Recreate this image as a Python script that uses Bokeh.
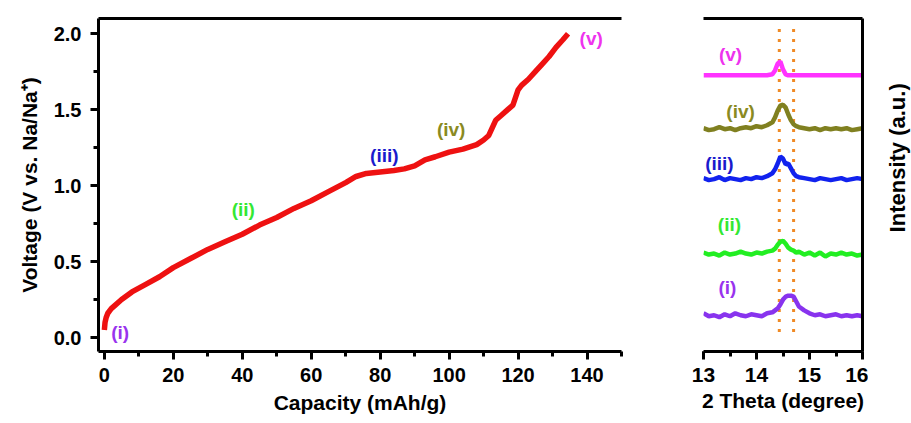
import math
from bokeh.plotting import figure
from bokeh.layouts import row
from bokeh.models import LinearAxis, SingleIntervalTicker, FixedTicker, Range1d, NumeralTickFormatter
from bokeh.core.properties import value
from bokeh.embed import file_html
from bokeh.resources import INLINE

FONT = "Liberation Sans"

# ---- charge curve data ----
capacity = [0, 0.2, 0.5, 1, 2, 3, 5, 8, 12, 16, 20, 25, 30, 35, 40, 45, 50, 55, 60, 65, 70, 73, 76,
            80, 84, 87, 90, 93, 96, 100, 104, 108, 110, 111.5, 112.5, 113.5, 115, 117, 118.5, 120,
            121, 123, 125, 127, 129, 131, 133, 134.5]
voltage = [0.05, 0.10, 0.13, 0.16, 0.19, 0.21, 0.25, 0.30, 0.35, 0.40, 0.46, 0.52, 0.58, 0.63, 0.68,
           0.74, 0.79, 0.85, 0.90, 0.96, 1.02, 1.06, 1.08, 1.09, 1.10, 1.11, 1.13, 1.17, 1.19, 1.22,
           1.24, 1.27, 1.30, 1.33, 1.38, 1.43, 1.46, 1.50, 1.53, 1.63, 1.66, 1.70, 1.75, 1.80, 1.85,
           1.91, 1.96, 2.00]

stage_labels = ["(i)", "(ii)", "(iii)", "(iv)", "(v)"]
label_colors = ["#9933EE", "#33E833", "#1A1ACC", "#8A8A22", "#EE33EE"]
trace_colors = ["#8833EE", "#22EE22", "#1122EE", "#808020", "#FF33FF"]
label_cap = [4.6, 40.3, 81.2, 100.6, 141.2]
label_volt = [0.03, 0.84, 1.20, 1.37, 1.97]

# ---- XRD data (offset intensities, a.u.) ----
two_theta = [13.0, 13.1, 13.2, 13.3, 13.4, 13.5, 13.6, 13.7, 13.8, 13.9, 14.0, 14.1, 14.2, 14.3,
             14.35, 14.4, 14.45, 14.5, 14.55, 14.6, 14.65, 14.7, 14.75, 14.8, 14.9, 15.0, 15.1,
             15.2, 15.3, 15.4, 15.5, 15.6, 15.7, 15.8, 15.9, 16.0]
xrd_i = [39, 36, 37, 35, 38, 36, 39, 37, 36, 38, 37, 36, 39, 40, 42, 44, 48, 53, 56, 57, 57, 56, 51,
         46, 42, 39, 37, 38, 36, 37, 38, 36, 37, 36, 37, 36]
xrd_ii = [101, 99, 100, 98, 101, 99, 100, 102, 100, 99, 101, 100, 102, 103, 105, 109, 112, 113, 110,
          106, 104, 103, 101, 102, 99, 101, 98, 101, 97, 100, 99, 101, 99, 100, 98, 99]
xrd_iii = [177, 175, 176, 178, 175, 177, 176, 175, 177, 176, 178, 177, 179, 182, 186, 192, 199, 197,
           191, 192, 187, 182, 179, 178, 177, 176, 175, 177, 176, 175, 176, 177, 175, 176, 177, 176]
xrd_iv = [228, 226, 227, 229, 227, 228, 226, 228, 229, 228, 230, 229, 231, 234, 239, 246, 251, 252,
          249, 242, 236, 232, 230, 229, 228, 227, 228, 226, 228, 227, 228, 227, 228, 226, 227, 228]
xrd_v = [282, 282, 282, 282, 282, 282, 282, 282, 282, 282, 282, 282, 282, 283, 287, 294, 296, 288,
         283, 282, 282, 282, 282, 282, 282, 282, 282, 282, 282, 282, 282, 282, 282, 282, 282, 282]
xrd_series = [xrd_i, xrd_ii, xrd_iii, xrd_iv, xrd_v]
xrd_label_x = [13.45, 13.49, 13.3, 13.7, 13.51]
xrd_label_y = [65, 130, 192, 245, 303]
intensity_title = ["Intensity (a.u.)"]

ref_lines_x = [14.43, 14.70]
ref_line_y0 = 20
ref_line_y1 = 335


def style_axis(ax, size="20px", label_size="21px"):
    ax.axis_line_width = 3
    ax.major_tick_line_width = 3
    ax.minor_tick_line_width = 3
    ax.major_tick_out = 8
    ax.major_tick_in = 0
    ax.minor_tick_out = 5
    ax.minor_tick_in = 0
    ax.major_label_text_font = FONT
    ax.major_label_text_font_style = "bold"
    ax.major_label_text_font_size = size
    ax.major_label_text_color = "black"
    ax.axis_label_text_font = FONT
    ax.axis_label_text_font_style = "bold"
    ax.axis_label_text_font_size = label_size
    ax.axis_label_text_color = "black"


def bare_axis(ax):
    ax.ticker = FixedTicker(ticks=[])
    ax.axis_line_width = 3
    ax.major_label_text_font_size = "0px"
    ax.major_tick_line_color = None
    ax.minor_tick_line_color = None
    ax.major_label_standoff = 0


# ---- left figure ----
p1 = figure(width=660, height=423, output_backend="svg", toolbar_location=None,
            x_range=Range1d(-1.7, 150), y_range=Range1d(-0.092, 2.1),
            min_border_left=98, min_border_right=39, min_border_top=18, min_border_bottom=72)
p1.outline_line_color = None
p1.grid.visible = False
p1.xaxis.ticker = SingleIntervalTicker(interval=20, num_minor_ticks=2)
p1.yaxis.ticker = SingleIntervalTicker(interval=0.5, num_minor_ticks=2)
p1.yaxis.formatter = NumeralTickFormatter(format="0.0")
p1.xaxis.axis_label = "Capacity (mAh/g)"
p1.yaxis.axis_label = "Voltage (V vs. Na/Na\u207A)"
style_axis(p1.xaxis[0])
style_axis(p1.yaxis[0], label_size="21px")
p1.xaxis.major_label_standoff = 8
p1.yaxis.major_label_standoff = 9
p1.xaxis.axis_label_standoff = 6
p1.yaxis.axis_label_standoff = 10
top1 = LinearAxis()
bare_axis(top1)
p1.add_layout(top1, "above")

p1.line(capacity, voltage, line_color="#EE1111", line_width=5.5)
p1.text(x=label_cap, y=label_volt, text=stage_labels, text_color=label_colors,
        text_font=value(FONT), text_font_style="bold", text_font_size="19px",
        text_align="center", text_baseline="middle")

# ---- right figure ----
p2 = figure(width=208, height=423, output_backend="svg", toolbar_location=None,
            x_range=Range1d(13, 16), y_range=Range1d(0, 340),
            min_border_left=43, min_border_right=6, min_border_top=15, min_border_bottom=68)
p2.outline_line_color = None
p2.grid.visible = False
p2.yaxis.visible = False
p2.xaxis.ticker = SingleIntervalTicker(interval=1, num_minor_ticks=2)
p2.xaxis.axis_label = "2 Theta (degree)"
style_axis(p2.xaxis[0], size="21px", label_size="21px")
p2.xaxis.major_label_standoff = 8
p2.xaxis.axis_label_standoff = 4
top2 = LinearAxis()
bare_axis(top2)
p2.add_layout(top2, "above")
right2 = LinearAxis()
bare_axis(right2)
p2.add_layout(right2, "right")

for xv in ref_lines_x:
    p2.segment(x0=[xv], y0=[ref_line_y0], x1=[xv], y1=[ref_line_y1],
               line_color="#F08A24", line_width=3, line_dash="3 7")

for ys, col in zip(xrd_series, trace_colors):
    p2.line(two_theta, ys, line_color=col, line_width=4.5)

p2.text(x=xrd_label_x, y=xrd_label_y, text=stage_labels, text_color=label_colors,
        text_font=value(FONT), text_font_style="bold", text_font_size="19px",
        text_align="center", text_baseline="middle")

# ---- side strip carrying the rotated intensity title ----
p3 = figure(width=43, height=423, output_backend="svg", toolbar_location=None,
            x_range=Range1d(0, 43), y_range=Range1d(0, 423),
            min_border_left=0, min_border_right=0, min_border_top=0, min_border_bottom=0)
p3.axis.visible = False
p3.grid.visible = False
p3.outline_line_color = None
p3.text(x=[29], y=[246], text=intensity_title, angle=math.pi / 2,
        text_font=value(FONT), text_font_style="bold", text_font_size="22px",
        text_color="black", text_align="center", text_baseline="middle")

layout = row(p1, p2, p3)
open("out.html", "w").write(file_html(layout, INLINE))
